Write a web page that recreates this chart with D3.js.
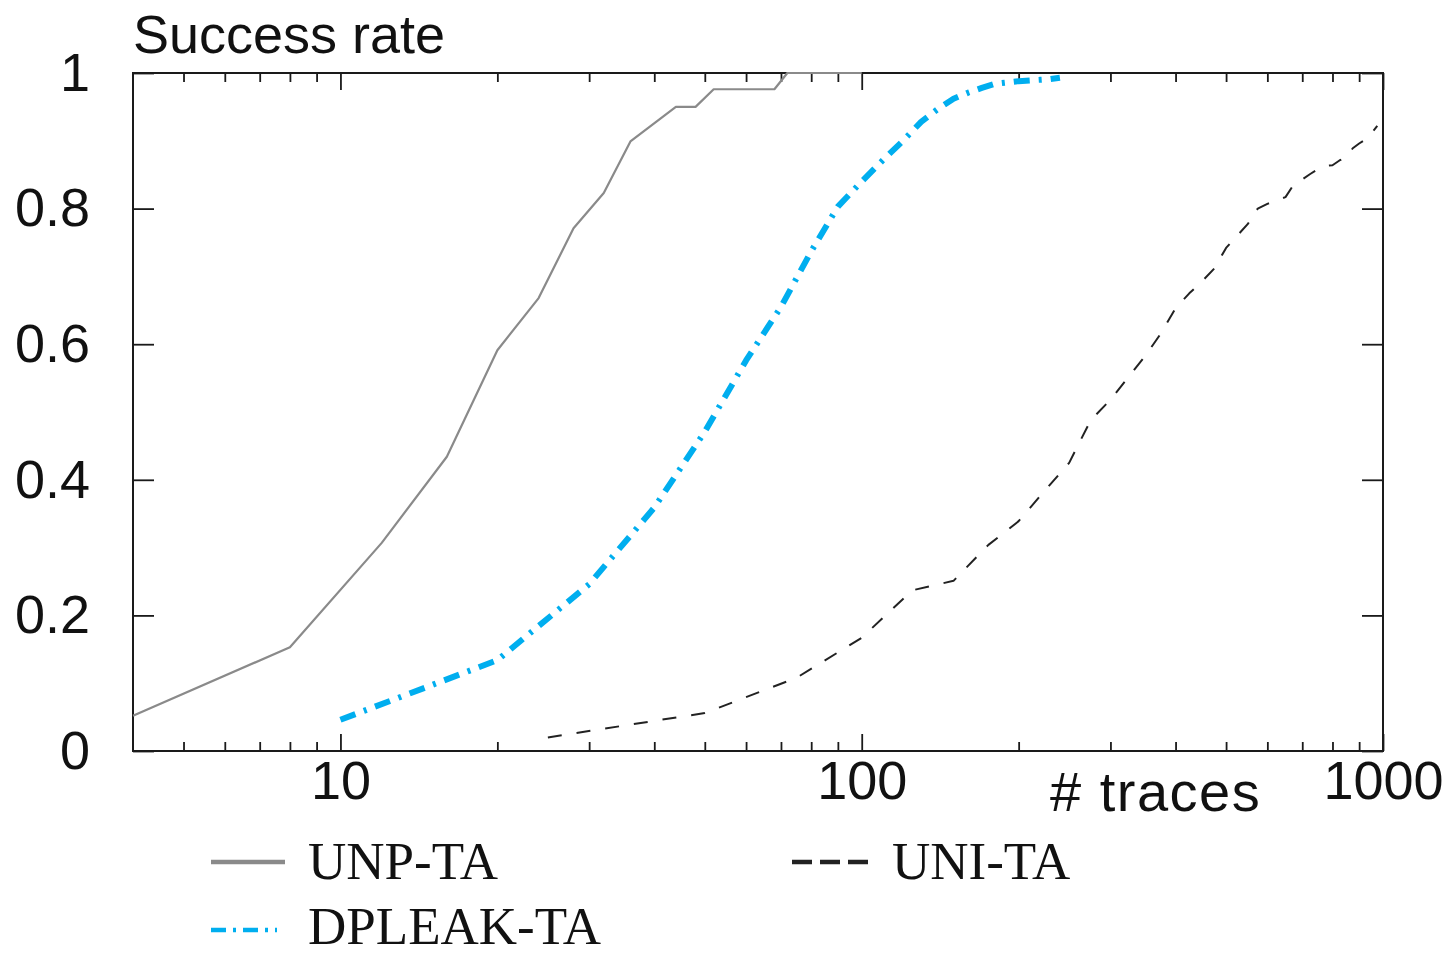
<!DOCTYPE html>
<html>
<head>
<meta charset="utf-8">
<script src="https://cdn.jsdelivr.net/npm/d3@7"></script>
<style>
  html, body { margin: 0; padding: 0; background: #fff; }
  svg { display: block; }
</style>
</head>
<body>
<svg id="chart" width="1451" height="957"></svg>
<script>
// Success rate versus number of traces for three attacks (log x axis)
const unpTraces = [4, 8, 12, 16, 20, 24, 28, 32, 36, 44, 48, 52, 68, 72, 100];
const unpRate   = [0.052, 0.153, 0.307, 0.434, 0.591, 0.668, 0.771, 0.823, 0.899, 0.950, 0.950, 0.976, 0.976, 1.0, 1.0];

const dpleakTraces = [10, 20, 30, 40, 50, 60, 70, 80, 90, 100, 110, 120, 130, 140, 150, 160, 170, 180, 190, 200, 210, 220, 230, 240];
const dpleakRate   = [0.046, 0.134, 0.246, 0.359, 0.471, 0.576, 0.655, 0.737, 0.803, 0.840, 0.872, 0.900, 0.928, 0.947, 0.962, 0.971, 0.978, 0.984, 0.986, 0.988, 0.989, 0.990, 0.991, 0.993];

const uniTraces = [25, 50, 75, 100, 125, 150, 175, 200, 225, 250, 275, 300, 325, 350, 375, 400, 425, 450, 475, 500,
                   525, 550, 575, 600, 625, 650, 675, 700, 725, 750, 775, 800, 825, 850, 875, 900, 925, 950, 975];
const uniRate   = [0.020, 0.056, 0.108, 0.167, 0.237, 0.251, 0.304, 0.339, 0.385, 0.425, 0.488, 0.518, 0.552, 0.583, 0.616, 0.653, 0.675, 0.693, 0.712, 0.742,
                   0.760, 0.777, 0.800, 0.807, 0.812, 0.817, 0.836, 0.843, 0.851, 0.858, 0.863, 0.864, 0.871, 0.876, 0.889, 0.896, 0.902, 0.911, 0.922];

const xMajorTicks = [10, 100, 1000];
const xMinorTicks = [5, 6, 7, 8, 9, 20, 30, 40, 50, 60, 70, 80, 90, 200, 300, 400, 500, 600, 700, 800, 900];
const yTicks = [0, 0.2, 0.4, 0.6, 0.8, 1];
const yTickLabels = ["0", "0.2", "0.4", "0.6", "0.8", "1"];

const seriesNames = ["UNP-TA", "DPLEAK-TA", "UNI-TA"];

const plot = { left: 133, right: 1383, top: 73, bottom: 751 };
const sansFont = "'Liberation Sans', Arial, sans-serif";
const serifFont = "'Liberation Serif', 'Times New Roman', serif";

const svg = d3.select("#chart");

const x = d3.scaleLog().domain([4, 1000]).range([plot.left, plot.right]);
const y = d3.scaleLinear().domain([0, 1]).range([plot.bottom, plot.top]);

const styles = {
  "UNP-TA":    { color: "#8a8a8a", width: 2.2, dash: null },
  "DPLEAK-TA": { color: "#00aeef", width: 6,   dash: "16,9,3,9" },
  "UNI-TA":    { color: "#222222", width: 2,   dash: "14,15" }
};

function styleAxis(g, showLabels) {
  g.select(".domain").remove();
  g.selectAll(".tick line").attr("stroke", "#1a1a1a").attr("stroke-width", 1.8);
  if (!showLabels) g.selectAll(".tick text").remove();
  else g.selectAll(".tick text")
        .attr("font-family", sansFont)
        .attr("font-size", 54)
        .attr("fill", "#111");
}

// bottom axis: major ticks with labels, minor ticks without
svg.append("g")
  .attr("transform", `translate(0,${plot.bottom})`)
  .call(d3.axisBottom(x).tickValues(xMajorTicks).tickSize(-17).tickPadding(10).tickFormat(d3.format("d")))
  .call(g => styleAxis(g, true))
  .call(g => g.selectAll(".tick text").attr("dy", "0.71em"));
svg.append("g")
  .attr("transform", `translate(0,${plot.bottom})`)
  .call(d3.axisBottom(x).tickValues(xMinorTicks).tickSize(-9))
  .call(g => styleAxis(g, false));

// top axis mirrors the ticks inward
svg.append("g")
  .attr("transform", `translate(0,${plot.top})`)
  .call(d3.axisTop(x).tickValues(xMajorTicks).tickSize(-17))
  .call(g => styleAxis(g, false));
svg.append("g")
  .attr("transform", `translate(0,${plot.top})`)
  .call(d3.axisTop(x).tickValues(xMinorTicks).tickSize(-9))
  .call(g => styleAxis(g, false));

// left and right axes
svg.append("g")
  .attr("transform", `translate(${plot.left},0)`)
  .call(d3.axisLeft(y).tickValues(yTicks).tickSize(-21).tickPadding(43)
        .tickFormat((d, i) => yTickLabels[i]))
  .call(g => styleAxis(g, true));
svg.append("g")
  .attr("transform", `translate(${plot.right},0)`)
  .call(d3.axisRight(y).tickValues(yTicks).tickSize(-21))
  .call(g => styleAxis(g, false));

// plot frame
svg.append("rect")
  .attr("x", plot.left).attr("y", plot.top)
  .attr("width", plot.right - plot.left).attr("height", plot.bottom - plot.top)
  .attr("fill", "none").attr("stroke", "#1a1a1a").attr("stroke-width", 2);

// series lines
const line = d3.line().x(d => x(d[0])).y(d => y(d[1]));
const series = [
  { name: "UNP-TA",    pts: d3.zip(unpTraces, unpRate) },
  { name: "UNI-TA",    pts: d3.zip(uniTraces, uniRate) },
  { name: "DPLEAK-TA", pts: d3.zip(dpleakTraces, dpleakRate) }
];
svg.append("g").selectAll("path")
  .data(series)
  .join("path")
  .attr("d", d => line(d.pts))
  .attr("fill", "none")
  .attr("stroke", d => styles[d.name].color)
  .attr("stroke-width", d => styles[d.name].width)
  .attr("stroke-dasharray", d => styles[d.name].dash)
  .attr("stroke-linejoin", "round");

// axis titles
svg.append("text")
  .attr("x", plot.left).attr("y", 53)
  .attr("font-family", sansFont).attr("font-size", 54).attr("fill", "#111")
  .text("Success rate");
svg.append("text")
  .attr("x", 1050).attr("y", 811)
  .attr("font-family", sansFont).attr("font-size", 56).attr("fill", "#111")
  .attr("letter-spacing", 1.5)
  .text("# traces");

// legend
const legendItems = [
  { name: "UNP-TA",    x: 211, y: 862, len: 74, dash: null,       width: 4.5, textY: 879 },
  { name: "UNI-TA",    x: 792, y: 862, len: 76, dash: "20,8",     width: 4.5, textY: 879 },
  { name: "DPLEAK-TA", x: 211, y: 930, len: 66, dash: "15,7,3,7", width: 4.5, textY: 944 }
];
const legend = svg.append("g");
legendItems.forEach(it => {
  legend.append("line")
    .attr("x1", it.x).attr("x2", it.x + it.len)
    .attr("y1", it.y).attr("y2", it.y)
    .attr("stroke", styles[it.name].color)
    .attr("stroke-width", it.width)
    .attr("stroke-dasharray", it.dash);
  legend.append("text")
    .attr("x", it.x + (it.name === "UNI-TA" ? 100 : 97))
    .attr("y", it.textY)
    .attr("font-family", serifFont).attr("font-size", 53).attr("fill", "#111")
    .text(it.name);
});
</script>
</body>
</html>
